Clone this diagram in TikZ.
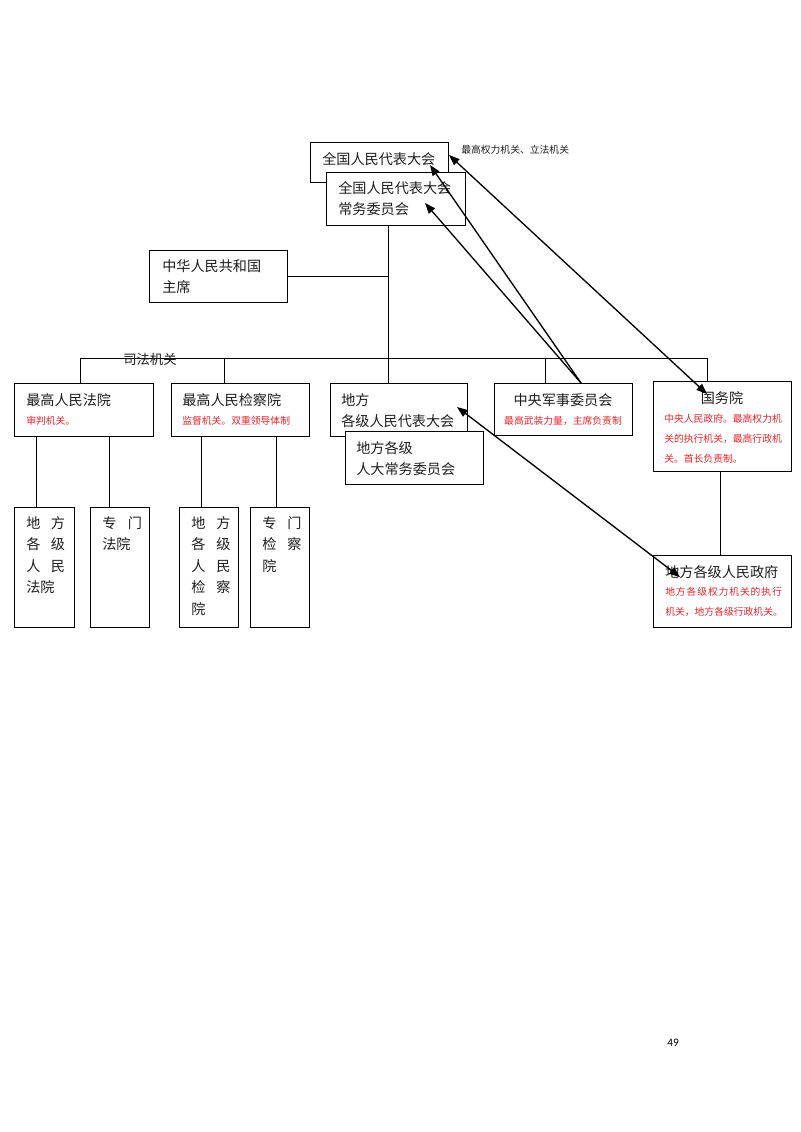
\documentclass[tikz,border=0pt]{standalone}
\usepackage{fontspec}
\setmainfont{Noto Sans CJK SC}
\newfontfamily\numfont{Carlito}
\usetikzlibrary{fit,arrows.meta}
\definecolor{redtxt}{RGB}{232,36,44}
\definecolor{inktxt}{RGB}{30,30,30}
\begin{document}
\begin{tikzpicture}[x=0.75pt,y=-0.75pt,
  box/.style={draw, line width=0.75pt, fill=white, inner sep=0pt},
  link/.style={line width=0.75pt},
  arr/.style={line width=1pt, -{Triangle[length=8pt,width=6pt]}},
  darr/.style={line width=1pt, {Triangle[length=8pt,width=6pt]}-{Triangle[length=8pt,width=6pt]}},
  t/.style={inner sep=0pt, text=inktxt, font=\fontsize{10.6pt}{16pt}\selectfont, align=left},
  tb/.style={inner sep=0pt, text=inktxt, font=\fontsize{10.6pt}{16.1pt}\selectfont, align=left, anchor=north west},
  r/.style={inner sep=0pt, text=redtxt, font=\fontsize{7.35pt}{15pt}\selectfont, align=left},
  note/.style={inner sep=0pt, text=inktxt, font=\fontsize{7.35pt}{9pt}\selectfont}]
\path[use as bounding box, fill=white] (0,0) rectangle (800,1132);

% boxes
\node[box, fit={(310,142)(448,182)}] (npc) {};
\node[box, fit={(326,172)(465,225)}] (npcsc) {};
\node[box, fit={(149,250)(287,302)}] (chair) {};
\node[box, fit={(14,383)(153,436)}] (spc) {};
\node[box, fit={(171,383)(309,436)}] (spp) {};
\node[box, fit={(330,383)(467,436)}] (lnpc) {};
\node[box, fit={(345,431)(483,484)}] (lnpcsc) {};
\node[box, fit={(494,383)(632,435)}] (cmc) {};
\node[box, fit={(653,381)(791,471)}] (sc) {};
\node[box, fit={(653,555)(791,627)}] (lgov) {};
\node[box, fit={(14,507)(74,627)}] (lc1) {};
\node[box, fit={(90,507)(149,627)}] (lc2) {};
\node[box, fit={(179,507)(238,627)}] (lp1) {};
\node[box, fit={(250,507)(309,627)}] (lp2) {};

% junctions
\coordinate (jbus) at (388,358);
\coordinate (bL) at (80,358);
\coordinate (b2) at (224,358);
\coordinate (b4) at (545,358);
\coordinate (bR) at (707,358);
\coordinate (d1) at (36,0);
\coordinate (d2) at (109,0);
\coordinate (d3) at (201,0);
\coordinate (d4) at (276,0);
\coordinate (dg) at (720,0);

% tree lines
\draw[link] (npcsc.south -| jbus) -- (jbus);
\draw[link] (chair.east) -- (chair.east -| jbus);
\draw[link] (spc.north -| bL) -- (bL) -- (bR) -- (sc.north -| bR);
\draw[link] (b2) -- (spp.north -| b2);
\draw[link] (jbus) -- (lnpc.north -| jbus);
\draw[link] (b4) -- (cmc.north -| b4);
\draw[link] (spc.south -| d1) -- (lc1.north -| d1);
\draw[link] (spc.south -| d2) -- (lc2.north -| d2);
\draw[link] (spp.south -| d3) -- (lp1.north -| d3);
\draw[link] (spp.south -| d4) -- (lp2.north -| d4);
\draw[link] (sc.south -| dg) -- (lgov.north -| dg);

% texts
\node[t, anchor=west] (tnpc) at (322,159) {全国人民代表大会};
\node[note, anchor=west] (tnote) at (461,150) {最高权力机关、立法机关};
\node[t, anchor=north west] (tnpcsc) at (338,181) {全国人民代表大会\\常务委员会};
\node[t, anchor=north west] (tchair) at (162,259) {中华人民共和国\\主席};
\node[t, anchor=west, font=\fontsize{10pt}{12pt}\selectfont] (tjud) at (123,359) {司法机关};
\node[t, anchor=west] (tspc) at (26,400) {最高人民法院};
\node[r, anchor=west] (rspc) at (26,421) {审判机关。};
\node[t, anchor=west] (tspp) at (182,400) {最高人民检察院};
\node[r, anchor=west] (rspp) at (182,421) {监督机关。双重领导体制};
\node[t, anchor=north west] (tlnpc) at (341,393) {地方\\各级人民代表大会};
\node[t, anchor=north west] (tlnpcsc) at (356,441) {地方各级\\人大常务委员会};
\node[t] (tcmc) at (563,400) {中央军事委员会};
\node[r] (rcmc) at (563,421) {最高武装力量，主席负责制};
\node[t] (tsc) at (722,398) {国务院};
\node[r, anchor=north west] (rsc) at (664,414) {中央人民政府。最高权力机\\关的执行机关，最高行政机\\关。首长负责制。};
\node[t, anchor=west] (tlgov) at (665,572) {地方各级人民政府};
\node[r, anchor=west] (rlgov1) at (665,592) {\addfontfeature{LetterSpace=9}地方各级权力机关的执行};
\node[r, anchor=west] (rlgov2) at (665,612) {机关，地方各级行政机关。};
\node[tb] (tlc1) at (26,516) {地\hspace{7.8pt}方\\各\hspace{7.8pt}级\\人\hspace{7.8pt}民\\法院};
\node[tb] (tlc2) at (102,516) {专\hspace{8.6pt}门\\法院};
\node[tb] (tlp1) at (191,516) {地\hspace{8.2pt}方\\各\hspace{8.2pt}级\\人\hspace{8.2pt}民\\检\hspace{8.2pt}察\\院};
\node[tb] (tlp2) at (262,516) {专\hspace{8.2pt}门\\检\hspace{8.2pt}察\\院};
\node[inner sep=0pt, font=\numfont\fontsize{8.5pt}{10pt}\selectfont] (pg) at (673,1043) {49};

% arrows
\coordinate (a0) at (581,383);
\coordinate (a1) at (430,165);
\coordinate (a2) at (425,203);
\coordinate (a3s) at (449,155);
\coordinate (a3e) at (707,394);
\coordinate (a4s) at (457,407);
\coordinate (a4e) at (680,577);
\draw[arr] (a0) -- (a1);
\draw[arr] (a0) -- (a2);
\draw[darr] (a3s) -- (a3e);
\draw[darr] (a4s) -- (a4e);
\end{tikzpicture}
\end{document}
